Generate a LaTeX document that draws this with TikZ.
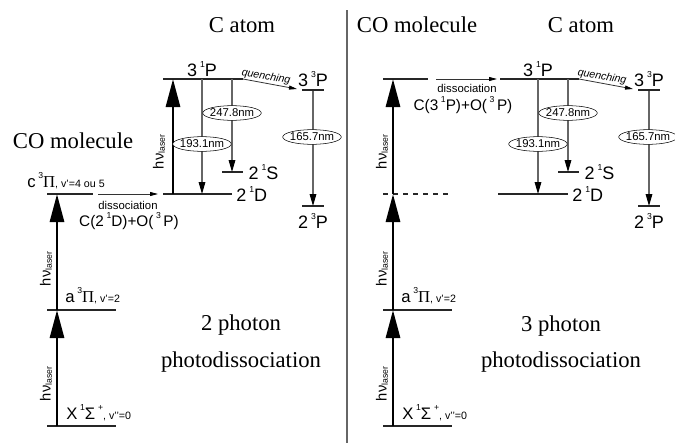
\documentclass[tikz,border=0pt]{standalone}
\usepackage{fontspec}
\setmainfont{Liberation Serif}
\newfontfamily\arial{Liberation Sans}
\usetikzlibrary{positioning,shapes.geometric,arrows.meta}

\newcommand{\up}[1]{\raisebox{0.5em}{\fontsize{6.5}{6.5}\selectfont #1}}
\newcommand{\hvlaser}{{\fontsize{11}{11}\selectfont hν}\raisebox{-0.8pt}{\fontsize{6.5}{6.5}\selectfont laser}}
\newcommand{\smalltxt}[1]{{\fontsize{8}{8}\selectfont #1}}

\begin{document}
\begin{tikzpicture}[
    x=0.75pt, y=-0.75pt,
    level/.style={draw=black!85, line width=0.9pt},
    pump/.style={draw, line width=2.2pt, -{Triangle[width=10.5pt,length=21pt]}},
    emit/.style={draw=black!60, line width=0.8pt, -{Triangle[width=5pt,length=9pt,color=black]}},
    move/.style={draw=black!80, line width=0.6pt, -{Triangle[width=3pt,length=6pt,color=black]}},
    title/.style={font=\fontsize{17}{17}\selectfont, anchor=base},
    state/.style={font=\arial\fontsize{13.5}{13.5}\selectfont, inner sep=0pt},
    mol/.style={font=\arial\fontsize{12.5}{12.5}\selectfont, inner sep=0pt, anchor=base west},
    laser/.style={font=\arial, rotate=90, inner sep=0pt},
    wave/.style={ellipse, draw, fill=white, font=\arial\fontsize{8.5}{8.5}\selectfont, inner xsep=-1pt, inner ysep=0pt, minimum height=11pt},
    note/.style={font=\arial\fontsize{8.5}{8.5}\selectfont, inner sep=0pt},
    prod/.style={font=\arial\fontsize{11.5}{11.5}\selectfont, inner sep=0pt}
]
\useasboundingbox (0,0) rectangle (675,443);

% ---------- 2 photon (left) ----------
% Levels
\coordinate (X1l) at (47,426);  \coordinate (X1r) at (116,426);
\coordinate (a1l) at (47,310);  \coordinate (a1r) at (116,310);
\coordinate (c1l) at (47,194);  \coordinate (c1r) at (93,194);
\coordinate (X1p) at (57,426);  \coordinate (a1p) at (57,310);  \coordinate (c1p) at (57,194);
\coordinate (D1l) at (163,194); \coordinate (D1r) at (232,194);
\coordinate (P1l) at (163,79);  \coordinate (P1r) at (243,79);
\coordinate (S1l) at (222,172); \coordinate (S1r) at (243,172);
\coordinate (T1l) at (302,90);  \coordinate (T1r) at (324,90);
\coordinate (G1l) at (302,206); \coordinate (G1r) at (324,206);
\draw[level] (X1l) -- (X1r);
\draw[level] (a1l) -- (a1r);
\draw[level] (c1l) -- (c1r);
\draw[level] (D1l) -- (D1r);
\draw[level] (P1l) -- (P1r);
\draw[level] (S1l) -- (S1r);
\draw[level] (T1l) -- (T1r);
\draw[level] (G1l) -- (G1r);

% Level labels
\node[mol] (X1) at (66,419) {X\,\up{1}Σ\,\up{+}\smalltxt{, v’’=0}};
\node[mol] (a1) at (65,302) {a\,\up{3}{\rmfamily Π}\smalltxt{, v’=2}};
\node[mol] (c1) at (27,187) {c\,\up{3}{\rmfamily Π}\smalltxt{, v’=4 ou 5}};
\node[state, anchor=base] (P1) at (202,76) {3\,\up{1}P};
\node[state, right=3pt of D1r] (D1) {2\,\up{1}D};
\node[state, right=4pt of S1r] (S1) {2\,\up{1}S};
\node[state, anchor=base] (T1) at (313,86) {3\,\up{3}P};
\node[state] (G1) at (313,221) {2\,\up{3}P};

% Paths
\draw[pump] (X1p) -- (a1p);
\draw[pump] (a1p) -- (c1p);
\draw[pump] (173,194) coordinate (u1) (u1) -- (173,79) coordinate (v1);
\draw[move] (98,194) coordinate (ds1) (ds1) -- (158,194) coordinate (de1);
\draw[emit] (202,79) coordinate (e1a) (e1a) -- (202,194) coordinate (e1b);
\draw[emit] (232,79) coordinate (e2a) (e2a) -- (232,172) coordinate (e2b);
\draw[move] (P1r) -- (297,89) coordinate (q1);
\draw[emit] (313,91) coordinate (e3a) (e3a) -- (313,206) coordinate (e3b);

% Labels
\node[laser] (h1) at (46,384) {\hvlaser};
\node[laser] (h2) at (46,269) {\hvlaser};
\node[laser] (h3) at (159,152) {\hvlaser};
\node[wave] (w1) at (202,144) {193.1nm};
\node[wave] (w2) at (232,113) {247.8nm};
\node[wave] (w3) at (312,137) {165.7nm};
\node[note] (dis1) at (128,205) {dissociation};
\node[prod] (prod1) at (129,221) {C(2\,\up{1}D)+O(\,\up{3}\,P)};
\node[note, font=\arial\itshape\fontsize{8}{8}\selectfont, rotate=-10] (qu1) at (266,77) {quenching};
\node[title] (atom1) at (242,32) {C atom};
\node[title] (co1) at (73,148) {CO molecule};
\node[title] (n1) at (241,330) {2 photon};
\node[title] (pd1) at (241,367) {photodissociation};

% Divider
\draw[black!60, line width=0.8pt] (347,10) coordinate (top) -- (347,443) coordinate (bot);

% ---------- 3 photon (right) ----------
% Levels
\coordinate (X2l) at (383,426); \coordinate (X2r) at (452,426);
\coordinate (a2l) at (383,310); \coordinate (a2r) at (452,310);
\coordinate (m2l) at (383,194); \coordinate (m2r) at (452,194);
\coordinate (t2l) at (383,79);  \coordinate (t2r) at (428,79);
\coordinate (X2p) at (393,426); \coordinate (a2p) at (393,310);
\coordinate (m2p) at (393,194); \coordinate (t2p) at (393,79);
\coordinate (D2l) at (498,194); \coordinate (D2r) at (568,194);
\coordinate (P2l) at (500,79);  \coordinate (P2r) at (579,79);
\coordinate (S2l) at (558,172); \coordinate (S2r) at (579,172);
\coordinate (T2l) at (638,90);  \coordinate (T2r) at (660,90);
\coordinate (G2l) at (638,206); \coordinate (G2r) at (660,206);
\draw[level] (X2l) -- (X2r);
\draw[level] (a2l) -- (a2r);
\draw[level, dash pattern=on 4pt off 3.5pt] (m2l) -- (m2r);
\draw[level] (t2l) -- (t2r);
\draw[level] (D2l) -- (D2r);
\draw[level] (P2l) -- (P2r);
\draw[level] (S2l) -- (S2r);
\draw[level] (T2l) -- (T2r);
\draw[level] (G2l) -- (G2r);

% Level labels
\node[mol] (X2) at (402,419) {X\,\up{1}Σ\,\up{+}\smalltxt{, v’’=0}};
\node[mol] (a2) at (401,302) {a\,\up{3}{\rmfamily Π}\smalltxt{, v’=2}};
\node[state, anchor=base] (P2) at (538,76) {3\,\up{1}P};
\node[state, right=3pt of D2r] (D2) {2\,\up{1}D};
\node[state, right=4pt of S2r] (S2) {2\,\up{1}S};
\node[state, anchor=base] (T2) at (649,86) {3\,\up{3}P};
\node[state] (G2) at (649,221) {2\,\up{3}P};

% Paths
\draw[pump] (X2p) -- (a2p);
\draw[pump] (a2p) -- (m2p);
\draw[pump] (m2p) -- (t2p);
\draw[move] (436,79) coordinate (ds2) (ds2) -- (497,79) coordinate (de2);
\draw[emit] (538,79) coordinate (f1a) (f1a) -- (538,194) coordinate (f1b);
\draw[emit] (568,79) coordinate (f2a) (f2a) -- (568,172) coordinate (f2b);
\draw[move] (P2r) -- (633,89) coordinate (q2);
\draw[emit] (649,91) coordinate (f3a) (f3a) -- (649,206) coordinate (f3b);

% Labels
\node[laser] (h4) at (382,384) {\hvlaser};
\node[laser] (h5) at (382,269) {\hvlaser};
\node[laser] (h6) at (382,152) {\hvlaser};
\node[wave] (w4) at (538,144) {193.1nm};
\node[wave] (w5) at (568,113) {247.8nm};
\node[wave] (w6) at (648,137) {165.7nm};
\node[note] (dis2) at (467,88) {dissociation};
\node[prod] (prod2) at (463,105) {C(3\,\up{1}P)+O(\,\up{3}\,P)};
\node[note, font=\arial\itshape\fontsize{8}{8}\selectfont, rotate=-10] (qu2) at (602,77) {quenching};
\node[title] (co2) at (417,32) {CO molecule};
\node[title] (atom2) at (581,32) {C atom};
\node[title] (n2) at (561,331) {3 photon};
\node[title] (pd2) at (561,367) {photodissociation};

\end{tikzpicture}
\end{document}
